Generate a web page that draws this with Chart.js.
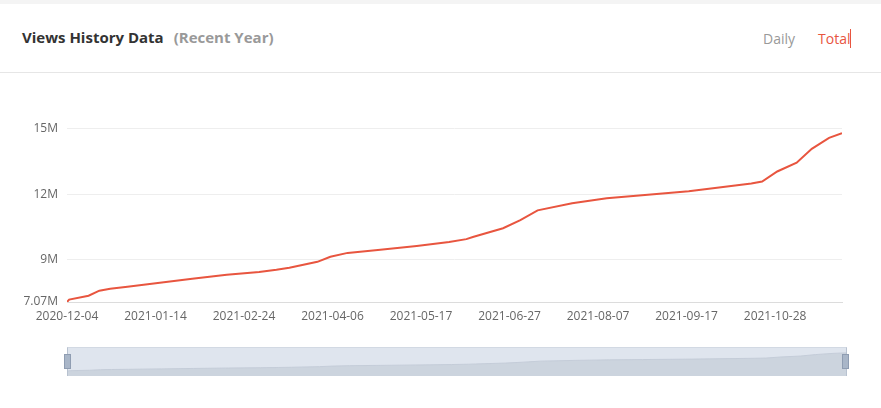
<!DOCTYPE html>
<html>
<head>
<meta charset="utf-8">
<script src="https://cdn.jsdelivr.net/npm/chart.js@4/dist/chart.umd.min.js"></script>
<style>
    html, body { margin: 0; padding: 0; background: #fff; }
    body { width: 881px; height: 408px; position: relative; overflow: hidden; font-family: 'Open Sans', sans-serif; }
    .topband { position: absolute; left: 0; top: 0; width: 881px; height: 4px; background: #f4f4f4; }
    .header { position: absolute; left: 0; top: 4px; width: 881px; height: 68px; border-bottom: 1px solid #e6e6e6; }
    .title { position: absolute; left: 22px; top: 23px; font-size: 15px; font-weight: 700; color: #333; }
    .title span { color: #999; margin-left: 10px; }
    .tabs { position: absolute; left: 763px; top: 25px; font-size: 14px; color: #999; }
    .tabs .on { color: #e8553f; margin-left: 23px; border-right: 1px solid #e8553f; padding-right: 0; }
    #main { position: absolute; left: 0; top: 80px; width: 881px; height: 250px; }
    .slider { position: absolute; left: 67px; top: 347px; width: 778px; height: 28px; background: #dfe5ee; border-left: 1px solid #b8c2d0; border-right: 1px solid #b8c2d0; border-top: 1px solid #d2d9e3; }
    #mini { position: absolute; left: 0; top: 0; width: 778px; height: 28px; }
    .handle { position: absolute; top: 354px; width: 5px; height: 13px; background: #a9b6c8; border: 1px solid #8f9db2; }
</style>
</head>
<body>
<div class="topband"></div>
<div class="header">
    <div class="title">Views History Data<span>(Recent Year)</span></div>
    <div class="tabs">Daily<span class="on">Total</span></div>
</div>
<div id="main"><canvas id="viewsChart"></canvas></div>
<div class="slider"><canvas id="mini"></canvas></div>
<div class="handle" style="left:64px"></div>
<div class="handle" style="left:842px"></div>

<script>
// total views (millions)
const dates = ['2020-12-04', '2020-12-05', '2020-12-14', '2020-12-19', '2020-12-24', '2021-01-01',
    '2021-01-16', '2021-01-31', '2021-02-16', '2021-03-03', '2021-03-11', '2021-03-17',
    '2021-03-30', '2021-04-05', '2021-04-13', '2021-04-27', '2021-05-15', '2021-05-30',
    '2021-06-07', '2021-06-10', '2021-06-24', '2021-07-02', '2021-07-10', '2021-07-26',
    '2021-08-11', '2021-08-26', '2021-09-18', '2021-10-17', '2021-10-22', '2021-10-29',
    '2021-11-07', '2021-11-14', '2021-11-22', '2021-11-28'];
const totalViews = [7.07, 7.18, 7.36, 7.59, 7.68, 7.77,
    7.95, 8.14, 8.32, 8.45, 8.55, 8.64,
    8.91, 9.14, 9.32, 9.45, 9.64, 9.82,
    9.95, 10.05, 10.45, 10.82, 11.27, 11.59,
    11.82, 11.95, 12.14, 12.50, 12.59, 13.05,
    13.45, 14.09, 14.59, 14.80];
const yTicks = [7.07, 9, 12, 15];
const xTickDates = ['2020-12-04', '2021-01-14', '2021-02-24', '2021-04-06', '2021-05-17',
    '2021-06-27', '2021-08-07', '2021-09-17', '2021-10-28'];

const DAY = 86400000;
const start = Date.UTC(2020, 11, 4);
const dayOf = s => (Date.parse(s + 'T00:00:00Z') - start) / DAY;
const dateOf = d => new Date(start + d * DAY).toISOString().slice(0, 10);

const points = dates.map((d, i) => ({ x: dayOf(d), y: totalViews[i] * 1e6 }));
const lastDay = dayOf(dates[dates.length - 1]);
const fmtM = v => (Math.round(v / 1e4) / 100) + 'M';

new Chart(document.getElementById('viewsChart'), {
    type: 'line',
    data: {
        datasets: [{
            data: points,
            borderColor: '#e8553f',
            borderWidth: 2,
            pointRadius: 0,
            tension: 0,
            fill: false
        }]
    },
    options: {
        responsive: true,
        maintainAspectRatio: false,
        animation: false,
        layout: { padding: { top: 15, right: 39, left: 0, bottom: 0 } },
        plugins: { legend: { display: false }, tooltip: { enabled: false } },
        scales: {
            x: {
                type: 'linear',
                min: 0,
                max: lastDay,
                afterBuildTicks: s => { s.ticks = xTickDates.map(d => ({ value: dayOf(d) })); },
                afterFit: s => { s.height = 28; },
                grid: { display: false, drawTicks: false },
                border: { color: '#dcdcdc' },
                ticks: {
                    color: '#666',
                    font: { family: 'Open Sans', size: 12 },
                    padding: 7,
                    maxRotation: 0,
                    autoSkip: false,
                    callback: v => dateOf(v)
                }
            },
            y: {
                min: 7.07e6,
                max: 16.5e6,
                afterBuildTicks: s => { s.ticks = yTicks.map(v => ({ value: v * 1e6 })); },
                afterFit: s => { s.width = 67; },
                grid: { color: '#eeeeee', drawTicks: false },
                border: { display: false },
                ticks: {
                    color: '#666',
                    font: { family: 'Open Sans', size: 12 },
                    padding: 9,
                    autoSkip: false,
                    callback: v => fmtM(v)
                }
            }
        }
    }
});

// data zoom preview strip
new Chart(document.getElementById('mini'), {
    type: 'line',
    data: {
        datasets: [{
            data: points,
            borderColor: '#c4ccd8',
            borderWidth: 1,
            backgroundColor: '#ccd4de',
            pointRadius: 0,
            fill: 'start'
        }]
    },
    options: {
        responsive: true,
        maintainAspectRatio: false,
        animation: false,
        layout: { padding: 0 },
        plugins: { legend: { display: false }, tooltip: { enabled: false } },
        scales: {
            x: { type: 'linear', min: 0, max: lastDay, display: false },
            y: { min: 4.9e6, max: 16.9e6, display: false }
        }
    }
});
</script>
</body>
</html>
